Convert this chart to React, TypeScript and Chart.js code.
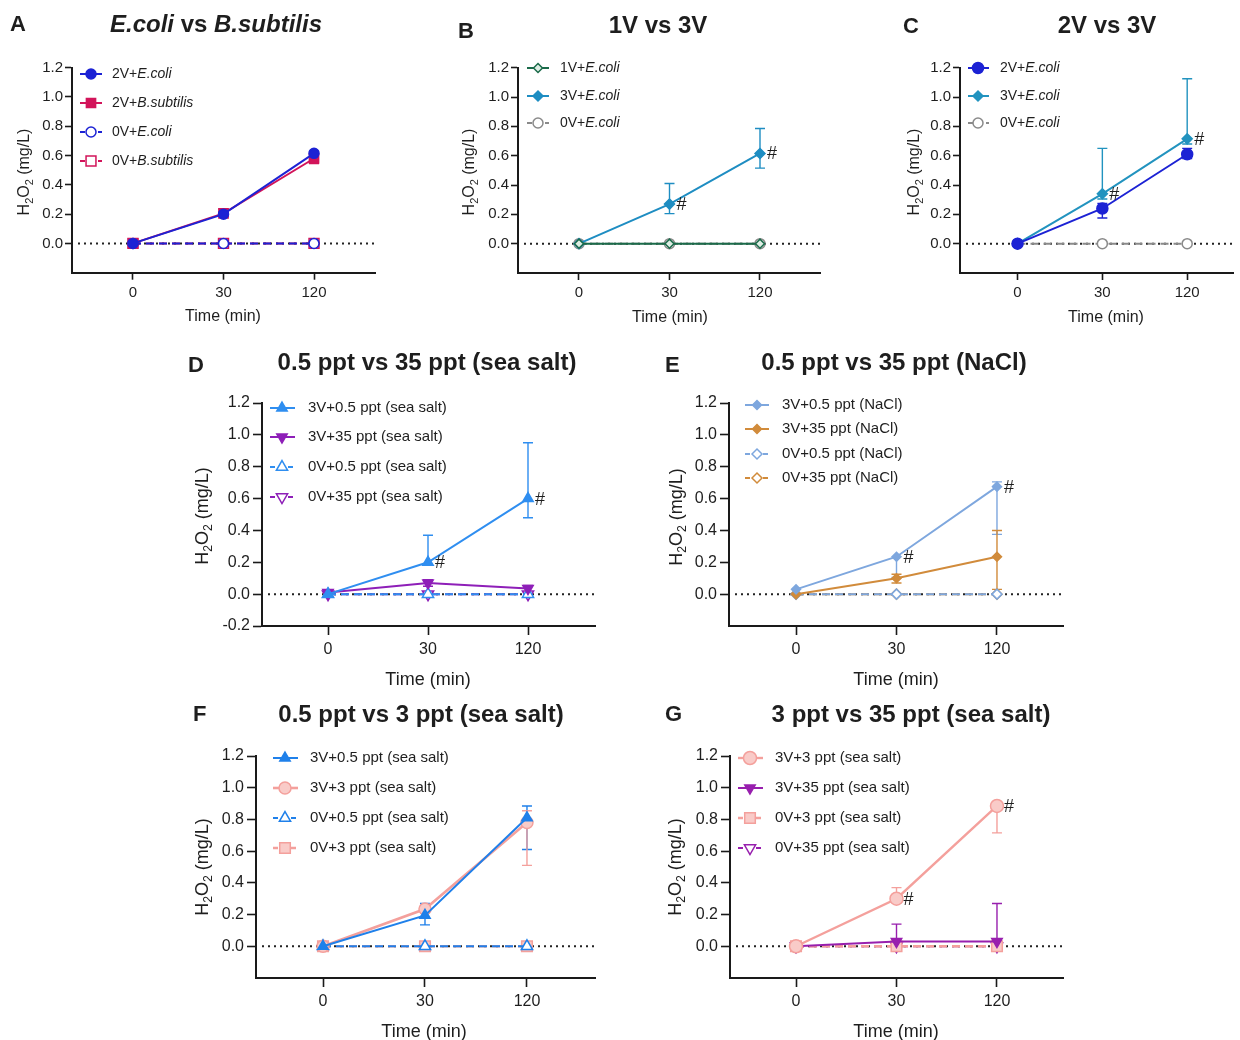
import React, { useEffect, useRef } from 'react';
import { Chart, registerables } from 'chart.js';

Chart.register(...registerables);

// ---------- shared axis data ----------
const TIME_LABELS = ['0', '30', '120'];
const TIME_INDEX = [0, 1, 2];
const Y_TICKS = [0, 0.2, 0.4, 0.6, 0.8, 1.0, 1.2];
const Y_TICKS_NEG = [-0.2, 0, 0.2, 0.4, 0.6, 0.8, 1.0, 1.2];

// ---------- Panel A ----------
const A_2V_ECOLI = [0, 0.2, 0.615];
const A_2V_ECOLI_UP = [0.005, 0.015, 0.015];
const A_2V_ECOLI_DOWN = [0.005, 0.015, 0.015];
const A_2V_BSUB = [0, 0.205, 0.58];
const A_2V_BSUB_UP = [0.005, 0.03, 0.02];
const A_2V_BSUB_DOWN = [0.005, 0.02, 0.035];
const A_0V_ECOLI = [0, 0, 0];
const A_0V_BSUB = [0, 0, 0];

// ---------- Panel B ----------
const B_1V_ECOLI = [0, 0, 0];
const B_3V_ECOLI = [0, 0.27, 0.615];
const B_3V_ECOLI_UP = [0, 0.14, 0.17];
const B_3V_ECOLI_DOWN = [0, 0.065, 0.1];
const B_0V_ECOLI = [0, 0, 0];
const B_HASH_POINTS = [1, 2];

// ---------- Panel C ----------
const C_2V_ECOLI = [0, 0.24, 0.61];
const C_2V_ECOLI_UP = [0, 0.035, 0.04];
const C_2V_ECOLI_DOWN = [0, 0.065, 0.03];
const C_3V_ECOLI = [0, 0.34, 0.715];
const C_3V_ECOLI_UP = [0, 0.31, 0.41];
const C_3V_ECOLI_DOWN = [0, 0.035, 0.035];
const C_0V_ECOLI = [0, 0, 0];
const C_HASH_POINTS = [1, 2];

// ---------- Panel D ----------
const D_3V_05 = [0, 0.2, 0.6];
const D_3V_05_UP = [0, 0.17, 0.35];
const D_3V_05_DOWN = [0, 0.01, 0.12];
const D_3V_35 = [0.01, 0.07, 0.035];
const D_3V_35_UP = [0.01, 0.02, 0.02];
const D_3V_35_DOWN = [0.01, 0.02, 0.02];
const D_0V_05 = [0, 0, 0];
const D_0V_35 = [0, 0, 0];
const D_HASH_POINTS = [1, 2];

// ---------- Panel E ----------
const E_3V_05 = [0.03, 0.235, 0.675];
const E_3V_05_UP = [0.005, 0.01, 0.03];
const E_3V_05_DOWN = [0.005, 0.13, 0.3];
const E_3V_35 = [0, 0.1, 0.235];
const E_3V_35_UP = [0, 0.025, 0.165];
const E_3V_35_DOWN = [0, 0.03, 0.205];
const E_0V_05 = [0, 0, 0];
const E_0V_35 = [0, 0, 0];
const E_HASH_POINTS = [1, 2];

// ---------- Panel F ----------
const F_3V_05 = [0, 0.195, 0.81];
const F_3V_05_UP = [0, 0.075, 0.075];
const F_3V_05_DOWN = [0, 0.06, 0.2];
const F_3V_3 = [0, 0.235, 0.78];
const F_3V_3_UP = [0, 0.025, 0.075];
const F_3V_3_DOWN = [0, 0.025, 0.27];
const F_0V_05 = [0, 0, 0];
const F_0V_3 = [0, 0, 0];

// ---------- Panel G ----------
const G_3V_3 = [0, 0.3, 0.885];
const G_3V_3_UP = [0, 0.07, 0];
const G_3V_3_DOWN = [0, 0, 0.17];
const G_3V_35 = [0, 0.03, 0.03];
const G_3V_35_UP = [0, 0.11, 0.24];
const G_3V_35_DOWN = [0, 0.03, 0.03];
const G_0V_3 = [0, 0, 0];
const G_0V_35 = [0, 0, 0];
const G_HASH_POINTS = [1, 2];

// ---------- styles ----------
const FONT = 'Arial, "Liberation Sans", Helvetica, sans-serif';
const TXT = '#1e1e1e';
const W = 1240;
const H = 1040;
const YW = 50;
const XH = 45;

const BLUE = '#1c22d4';
const CRIMSON = '#d2145a';
const GREEN = '#1b6b4a';
const TEAL = '#1e8dc2';
const TEAL2 = '#2293bf';
const GRAY = '#8a8a8a';
const SKY = '#2f8ef0';
const PURPLE = '#8e1fb8';
const STEEL = '#7ea7de';
const ORANGE = '#d18b3b';
const BLUE2 = '#1f80ea';
const PINK = '#f4a09c';
const PINK_FILL = '#f9cbc8';
const PURPLE2 = '#981fae';

type Seg = { t: string; i?: boolean; sub?: boolean };

const seg = (t: string, i = false): Seg => ({ t, i });
const Y_TITLE: Seg[] = [{ t: 'H' }, { t: '2', sub: true }, { t: 'O' }, { t: '2', sub: true }, { t: ' (mg/L)' }];

function fontStr(size: number, bold: boolean, italic?: boolean) {
  return `${italic ? 'italic ' : ''}${bold ? 'bold ' : ''}${size}px ${FONT}`;
}

function drawSegs(ctx: any, segs: Seg[], x: number, y: number, size: number, bold: boolean, align: string) {
  ctx.textBaseline = 'middle';
  ctx.textAlign = 'left';
  const widths = segs.map((s) => {
    ctx.font = fontStr(s.sub ? size * 0.68 : size, bold, s.i);
    return ctx.measureText(s.t).width;
  });
  const total = widths.reduce((a, b) => a + b, 0);
  let cx = align === 'center' ? x - total / 2 : x;
  segs.forEach((s, k) => {
    ctx.font = fontStr(s.sub ? size * 0.68 : size, bold, s.i);
    ctx.fillText(s.t, cx, s.sub ? y + size * 0.3 : y);
    cx += widths[k];
  });
}

function drawMarker(ctx: any, style: string, x: number, y: number, r: number, rotation: number) {
  let rad = (rotation * Math.PI) / 180;
  ctx.beginPath();
  if (style === 'circle') {
    ctx.arc(x, y, r, 0, Math.PI * 2);
  } else if (style === 'rect') {
    const s = Math.SQRT1_2 * r;
    ctx.rect(x - s, y - s, 2 * s, 2 * s);
  } else if (style === 'rectRot') {
    const xo = Math.cos(rad) * r;
    const yo = Math.sin(rad) * r;
    ctx.moveTo(x - xo, y - yo);
    ctx.lineTo(x + yo, y - xo);
    ctx.lineTo(x + xo, y + yo);
    ctx.lineTo(x - yo, y + xo);
    ctx.closePath();
  } else if (style === 'triangle') {
    ctx.moveTo(x + Math.sin(rad) * r, y - Math.cos(rad) * r);
    rad += (2 * Math.PI) / 3;
    ctx.lineTo(x + Math.sin(rad) * r, y - Math.cos(rad) * r);
    rad += (2 * Math.PI) / 3;
    ctx.lineTo(x + Math.sin(rad) * r, y - Math.cos(rad) * r);
    ctx.closePath();
  }
  ctx.fill();
  ctx.stroke();
}

const PANELS: any[] = [
  {
    letter: 'A', letterPos: [10, 25], title: [seg('E.coli', true), seg(' vs '), seg('B.subtilis', true)], titlePos: [216, 25], titleSize: 24,
    plot: { l: 72, t: 67.7, r: 375, b: 272.7 }, xRange: [-0.674, 2.674], yTicks: Y_TICKS,
    tickSize: 15, tickLen: 7, yPad: 2, xPad: 4, axisTitleSize: 16, yTitlePos: [25, 172], xTitlePos: [223, 317],
    legend: { x0: 80, x1: 102, mx: 91, tx: 112, rows: [74, 103, 132, 161], size: 14 },
    series: [
      { label: [seg('2V+'), seg('E.coli', true)], data: A_2V_ECOLI, up: A_2V_ECOLI_UP, down: A_2V_ECOLI_DOWN, color: BLUE, fill: BLUE, style: 'circle', r: 5 },
      { label: [seg('2V+'), seg('B.subtilis', true)], data: A_2V_BSUB, up: A_2V_BSUB_UP, down: A_2V_BSUB_DOWN, color: CRIMSON, fill: CRIMSON, style: 'rect', r: 6.5 },
      { label: [seg('0V+'), seg('E.coli', true)], data: A_0V_ECOLI, color: BLUE, fill: '#fff', style: 'circle', r: 5, dashed: true },
      { label: [seg('0V+'), seg('B.subtilis', true)], data: A_0V_BSUB, color: CRIMSON, fill: '#fff', style: 'rect', r: 7, dashed: true },
    ],
  },
  {
    letter: 'B', letterPos: [458, 32], title: [seg('1V vs 3V')], titlePos: [658, 26], titleSize: 24,
    plot: { l: 518, t: 67.7, r: 820, b: 273 }, xRange: [-0.674, 2.663], yTicks: Y_TICKS,
    tickSize: 15, tickLen: 7, yPad: 2, xPad: 4, axisTitleSize: 16, yTitlePos: [470, 172], xTitlePos: [670, 318],
    legend: { x0: 527, x1: 549, mx: 538, tx: 560, rows: [68, 96, 123], size: 14 },
    hash: { series: 1, points: B_HASH_POINTS },
    series: [
      { label: [seg('1V+'), seg('E.coli', true)], data: B_1V_ECOLI, color: GREEN, fill: '#dfeee5', style: 'rectRot', r: 4.5 },
      { label: [seg('3V+'), seg('E.coli', true)], data: B_3V_ECOLI, up: B_3V_ECOLI_UP, down: B_3V_ECOLI_DOWN, color: TEAL, fill: TEAL, style: 'rectRot', r: 5 },
      { label: [seg('0V+'), seg('E.coli', true)], data: B_0V_ECOLI, color: GRAY, fill: '#fff', style: 'circle', r: 5, dashed: true },
    ],
  },
  {
    letter: 'C', letterPos: [903, 27], title: [seg('2V vs 3V')], titlePos: [1107, 26], titleSize: 24,
    plot: { l: 960, t: 67.7, r: 1240, b: 273 }, xRange: [-0.678, 2.54], yTicks: Y_TICKS,
    tickSize: 15, tickLen: 7, yPad: 2, xPad: 4, axisTitleSize: 16, yTitlePos: [915, 172], xTitlePos: [1106, 318],
    legend: { x0: 968, x1: 989, mx: 978, tx: 1000, rows: [68, 96, 123], size: 14 },
    hash: { series: 1, points: C_HASH_POINTS },
    series: [
      { label: [seg('2V+'), seg('E.coli', true)], data: C_2V_ECOLI, up: C_2V_ECOLI_UP, down: C_2V_ECOLI_DOWN, color: BLUE, fill: BLUE, style: 'circle', r: 5.5 },
      { label: [seg('3V+'), seg('E.coli', true)], data: C_3V_ECOLI, up: C_3V_ECOLI_UP, down: C_3V_ECOLI_DOWN, color: TEAL2, fill: TEAL2, style: 'rectRot', r: 5 },
      { label: [seg('0V+'), seg('E.coli', true)], data: C_0V_ECOLI, color: GRAY, fill: '#fff', style: 'circle', r: 5, dashed: true },
    ],
  },
  {
    letter: 'D', letterPos: [188, 366], title: [seg('0.5 ppt vs 35 ppt (sea salt)')], titlePos: [427, 363], titleSize: 24,
    plot: { l: 262, t: 403, r: 595, b: 626 }, xRange: [-0.66, 2.67], yTicks: Y_TICKS_NEG,
    tickSize: 16, tickLen: 9, yPad: 3, xPad: 5, axisTitleSize: 18, yTitlePos: [203, 516], xTitlePos: [428, 680],
    legend: { x0: 270, x1: 295, mx: 282, tx: 308, rows: [408, 437, 467, 497], size: 15 },
    hash: { series: 0, points: D_HASH_POINTS },
    series: [
      { label: [seg('3V+0.5 ppt (sea salt)')], data: D_3V_05, up: D_3V_05_UP, down: D_3V_05_DOWN, color: SKY, fill: SKY, style: 'triangle', r: 6 },
      { label: [seg('3V+35 ppt (sea salt)')], data: D_3V_35, up: D_3V_35_UP, down: D_3V_35_DOWN, color: PURPLE, fill: PURPLE, style: 'triangle', rot: 180, r: 6 },
      { label: [seg('0V+0.5 ppt (sea salt)')], data: D_0V_05, color: SKY, fill: '#fff', style: 'triangle', r: 6.5, dashed: true },
      { label: [seg('0V+35 ppt (sea salt)')], data: D_0V_35, color: PURPLE, fill: '#fff', style: 'triangle', rot: 180, r: 6.5, dashed: true },
    ],
  },
  {
    letter: 'E', letterPos: [665, 366], title: [seg('0.5 ppt vs 35 ppt (NaCl)')], titlePos: [894, 363], titleSize: 24,
    plot: { l: 729, t: 403, r: 1063, b: 626 }, xRange: [-0.667, 2.657], yTicks: Y_TICKS,
    tickSize: 16, tickLen: 9, yPad: 3, xPad: 5, axisTitleSize: 18, yTitlePos: [677, 517], xTitlePos: [896, 680],
    legend: { x0: 745, x1: 769, mx: 757, tx: 782, rows: [405, 429, 454, 478], size: 15 },
    hash: { series: 0, points: E_HASH_POINTS },
    series: [
      { label: [seg('3V+0.5 ppt (NaCl)')], data: E_3V_05, up: E_3V_05_UP, down: E_3V_05_DOWN, color: STEEL, fill: STEEL, style: 'rectRot', r: 4.5 },
      { label: [seg('3V+35 ppt (NaCl)')], data: E_3V_35, up: E_3V_35_UP, down: E_3V_35_DOWN, color: ORANGE, fill: ORANGE, style: 'rectRot', r: 4.5 },
      { label: [seg('0V+0.5 ppt (NaCl)')], data: E_0V_05, color: STEEL, fill: '#fff', style: 'rectRot', r: 5, dashed: true },
      { label: [seg('0V+35 ppt (NaCl)')], data: E_0V_35, color: ORANGE, fill: '#fff', style: 'rectRot', r: 5, dashed: true },
    ],
  },
  {
    letter: 'F', letterPos: [193, 715], title: [seg('0.5 ppt vs 3 ppt (sea salt)')], titlePos: [421, 715], titleSize: 24,
    plot: { l: 256, t: 756, r: 595, b: 978 }, xRange: [-0.657, 2.667], yTicks: Y_TICKS,
    tickSize: 16, tickLen: 9, yPad: 3, xPad: 5, axisTitleSize: 18, yTitlePos: [203, 867], xTitlePos: [424, 1032],
    legend: { x0: 273, x1: 298, mx: 285, tx: 310, rows: [758, 788, 818, 848], size: 15 },
    series: [
      { label: [seg('3V+0.5 ppt (sea salt)')], data: F_3V_05, up: F_3V_05_UP, down: F_3V_05_DOWN, color: BLUE2, fill: BLUE2, style: 'triangle', r: 6 },
      { label: [seg('3V+3 ppt (sea salt)')], data: F_3V_3, up: F_3V_3_UP, down: F_3V_3_DOWN, color: PINK, fill: PINK_FILL, style: 'circle', r: 6, width: 2.6 },
      { label: [seg('0V+0.5 ppt (sea salt)')], data: F_0V_05, color: BLUE2, fill: '#fff', style: 'triangle', r: 6.5, dashed: true },
      { label: [seg('0V+3 ppt (sea salt)')], data: F_0V_3, color: PINK, fill: PINK_FILL, style: 'rect', r: 7.5, dashed: true, width: 2.6 },
    ],
  },
  {
    letter: 'G', letterPos: [665, 715], title: [seg('3 ppt vs 35 ppt (sea salt)')], titlePos: [911, 715], titleSize: 24,
    plot: { l: 730, t: 756, r: 1063, b: 978 }, xRange: [-0.657, 2.657], yTicks: Y_TICKS,
    tickSize: 16, tickLen: 9, yPad: 3, xPad: 5, axisTitleSize: 18, yTitlePos: [676, 867], xTitlePos: [896, 1032],
    legend: { x0: 738, x1: 763, mx: 750, tx: 775, rows: [758, 788, 818, 848], size: 15 },
    hash: { series: 0, points: G_HASH_POINTS },
    series: [
      { label: [seg('3V+3 ppt (sea salt)')], data: G_3V_3, up: G_3V_3_UP, down: G_3V_3_DOWN, color: PINK, fill: PINK_FILL, style: 'circle', r: 6.5, width: 2.4 },
      { label: [seg('3V+35 ppt (sea salt)')], data: G_3V_35, up: G_3V_35_UP, down: G_3V_35_DOWN, color: PURPLE2, fill: PURPLE2, style: 'triangle', rot: 180, r: 6 },
      { label: [seg('0V+3 ppt (sea salt)')], data: G_0V_3, color: PINK, fill: PINK_FILL, style: 'rect', r: 7.5, dashed: true, width: 2.4 },
      { label: [seg('0V+35 ppt (sea salt)')], data: G_0V_35, color: PURPLE2, fill: '#fff', style: 'triangle', rot: 180, r: 6.5, dashed: true },
    ],
  },
];

function makeDecor(p: any) {
  return {
    id: 'decor' + p.letter,
    beforeDatasetsDraw(chart: any) {
      const ctx = chart.ctx;
      const { left, right } = chart.chartArea;
      const ys = chart.scales.y;
      ctx.save();
      const y0 = ys.getPixelForValue(0);
      ctx.strokeStyle = '#222';
      ctx.lineWidth = 2;
      ctx.setLineDash([2, 4]);
      ctx.beginPath();
      ctx.moveTo(left + 6, y0);
      ctx.lineTo(right, y0);
      ctx.stroke();
      ctx.setLineDash([]);
      p.series.forEach((s: any, di: number) => {
        if (!s.up) return;
        const meta = chart.getDatasetMeta(di);
        ctx.strokeStyle = s.color;
        ctx.lineWidth = 1.4;
        s.data.forEach((v: number, i: number) => {
          const x = meta.data[i].x;
          const yt = ys.getPixelForValue(v + s.up[i]);
          const yb = ys.getPixelForValue(v - s.down[i]);
          ctx.beginPath();
          ctx.moveTo(x, yt);
          ctx.lineTo(x, yb);
          if (s.up[i] > 0.012) {
            ctx.moveTo(x - 5, yt);
            ctx.lineTo(x + 5, yt);
          }
          if (s.down[i] > 0.012) {
            ctx.moveTo(x - 5, yb);
            ctx.lineTo(x + 5, yb);
          }
          ctx.stroke();
        });
      });
      ctx.restore();
    },
    afterDraw(chart: any) {
      const ctx = chart.ctx;
      ctx.save();
      ctx.fillStyle = TXT;
      // hashes
      if (p.hash) {
        const meta = chart.getDatasetMeta(p.hash.series);
        ctx.font = fontStr(18, false);
        ctx.textAlign = 'left';
        ctx.textBaseline = 'middle';
        p.hash.points.forEach((i: number) => {
          const el = meta.data[i];
          ctx.fillText('#', el.x + 7, el.y + 1);
        });
      }
      // letter and title
      ctx.font = fontStr(22, true);
      ctx.textAlign = 'left';
      ctx.textBaseline = 'middle';
      ctx.fillText(p.letter, p.letterPos[0], p.letterPos[1]);
      drawSegs(ctx, p.title, p.titlePos[0], p.titlePos[1], p.titleSize, true, 'center');
      // axis titles
      drawSegs(ctx, [{ t: 'Time (min)' }], p.xTitlePos[0], p.xTitlePos[1], p.axisTitleSize, false, 'center');
      ctx.save();
      ctx.translate(p.yTitlePos[0], p.yTitlePos[1]);
      ctx.rotate(-Math.PI / 2);
      drawSegs(ctx, Y_TITLE, 0, 0, p.axisTitleSize, false, 'center');
      ctx.restore();
      // legend
      const lg = p.legend;
      p.series.forEach((s: any, k: number) => {
        const y = lg.rows[k];
        ctx.strokeStyle = s.color;
        ctx.lineWidth = s.width || 2;
        ctx.setLineDash(s.dashed ? [5, 4] : []);
        ctx.beginPath();
        ctx.moveTo(lg.x0, y);
        ctx.lineTo(lg.x1, y);
        ctx.stroke();
        ctx.setLineDash([]);
        ctx.fillStyle = s.fill;
        ctx.lineWidth = 1.5;
        drawMarker(ctx, s.style, lg.mx, y, s.r, s.rot || 0);
        ctx.fillStyle = TXT;
        drawSegs(ctx, s.label, lg.tx, y, lg.size, false, 'left');
      });
      ctx.restore();
    },
  };
}

function buildConfig(p: any): any {
  const pl = p.plot;
  return {
    type: 'line',
    data: {
      datasets: p.series.map((s: any) => ({
        data: s.data.map((v: number, i: number) => ({ x: TIME_INDEX[i], y: v })),
        borderColor: s.color,
        backgroundColor: s.fill,
        borderWidth: s.width || 2,
        borderDash: s.dashed ? [8, 5] : [],
        pointStyle: s.style,
        pointRotation: s.rot || 0,
        pointRadius: s.r,
        pointBorderWidth: 1.5,
        pointBackgroundColor: s.fill,
        pointBorderColor: s.color,
        tension: 0,
        fill: false,
        clip: false,
      })),
    },
    options: {
      animation: false,
      responsive: false,
      maintainAspectRatio: false,
      devicePixelRatio: 1,
      events: [],
      layout: {
        padding: { left: pl.l - YW, top: pl.t, right: W - pl.r, bottom: H - pl.b - XH },
      },
      plugins: { legend: { display: false }, tooltip: { enabled: false }, title: { display: false } },
      scales: {
        x: {
          type: 'linear',
          min: p.xRange[0],
          max: p.xRange[1],
          afterBuildTicks: (scale: any) => {
            scale.ticks = TIME_INDEX.map((v) => ({ value: v }));
          },
          afterFit: (scale: any) => {
            scale.height = XH;
          },
          ticks: {
            autoSkip: false,
            maxRotation: 0,
            padding: p.xPad,
            color: TXT,
            font: { size: p.tickSize, family: FONT },
            callback: (v: number) => TIME_LABELS[TIME_INDEX.indexOf(v)],
          },
          grid: { display: true, drawOnChartArea: false, drawTicks: true, tickLength: p.tickLen, tickWidth: 1.6, tickColor: '#1a1a1a', color: '#1a1a1a' },
          border: { display: true, color: '#1a1a1a', width: 2 },
        },
        y: {
          type: 'linear',
          min: -0.2,
          max: 1.2,
          afterBuildTicks: (scale: any) => {
            scale.ticks = p.yTicks.map((v: number) => ({ value: v }));
          },
          afterFit: (scale: any) => {
            scale.width = YW;
          },
          ticks: {
            autoSkip: false,
            padding: p.yPad,
            color: TXT,
            font: { size: p.tickSize, family: FONT },
            callback: (v: number) => Number(v).toFixed(1),
          },
          grid: { display: true, drawOnChartArea: false, drawTicks: true, tickLength: p.tickLen, tickWidth: 1.6, tickColor: '#1a1a1a', color: '#1a1a1a' },
          border: { display: true, color: '#1a1a1a', width: 2 },
        },
      },
    },
    plugins: [makeDecor(p)],
  };
}

function PanelChart({ panel }: { panel: any }) {
  const ref = useRef<HTMLCanvasElement | null>(null);
  useEffect(() => {
    if (!ref.current) return;
    const chart = new Chart(ref.current, buildConfig(panel));
    return () => chart.destroy();
  }, [panel]);
  return (
    <canvas
      ref={ref}
      width={W}
      height={H}
      style={{ position: 'absolute', left: 0, top: 0, width: W, height: H }}
    />
  );
}

export default function App() {
  return (
    <div style={{ position: 'fixed', left: 0, top: 0, width: W, height: H, background: '#fff', overflow: 'hidden' }}>
      {PANELS.map((p) => (
        <PanelChart key={p.letter} panel={p} />
      ))}
    </div>
  );
}
